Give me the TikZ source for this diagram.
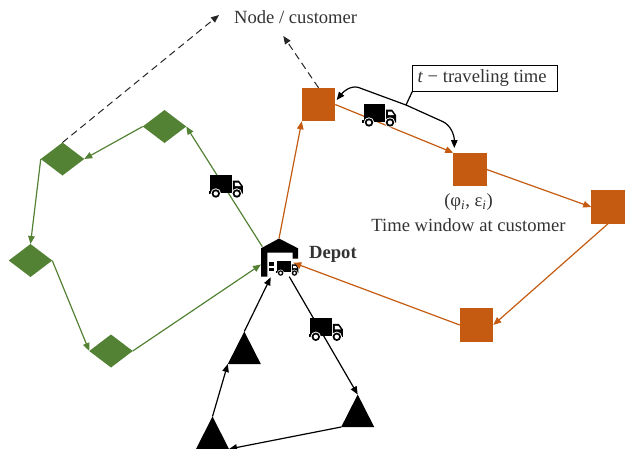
\documentclass[tikz,border=0pt]{standalone}
\usepackage{fontspec}
\setmainfont{Liberation Serif}
\usetikzlibrary{shapes.geometric,arrows.meta}
\definecolor{ora}{HTML}{C55A11}
\definecolor{gre}{HTML}{548235}
\definecolor{txt}{HTML}{333333}
\tikzset{
  sq/.style={fill=ora,draw=none,minimum size=33.5,inner sep=0,outer sep=0},
  dia/.style={diamond,fill=gre,draw=none,minimum width=43.5,minimum height=33,inner sep=0,outer sep=0},
  tri/.style={isosceles triangle,isosceles triangle stretches,shape border rotate=90,fill=black,draw=none,minimum width=33,minimum height=32.5,inner sep=0,outer sep=0,anchor=lower side},
  tip/.style={-{Triangle[length=8,width=6.5]}},
  oline/.style={tip,draw=ora,line width=1.2},
  gline/.style={tip,draw=gre,line width=1.2},
  kline/.style={tip,draw=black,line width=1.2},
  dline/.style={tip,draw=black!85,line width=1,dash pattern=on 7 off 4.5},
  lab/.style={font=\fontsize{18.6}{21}\selectfont,text=txt,inner sep=0},
  truck/.pic={
    \fill[black] (1.5,0) rectangle (23,17.5);
    \fill[black] (0,16) rectangle (3,18.5);
    \fill[black] (24,5.5) -- (30,5.5) -- (34,11) -- (34,18.5) -- (24,18.5) -- cycle;
    \fill[white] (26,7.5) -- (29.5,7.5) -- (32,11) -- (26,11) -- cycle;
    \foreach \wx in {7,28}{
      \fill[white] (\wx,18.5) circle (5.2);
      \fill[black] (\wx,18.5) circle (4.2);
      \fill[white] (\wx,18.5) circle (2.2);
    }
  }
}
\begin{document}
\begin{tikzpicture}[x=1pt,y=-1pt]
\useasboundingbox (0,0) rectangle (627,448);
% customers
\node[sq] (s1) at (318.5,104.5) {};
\node[sq] (s2) at (470,169.5) {};
\node[sq] (s3) at (608,207) {};
\node[sq] (s4) at (476.5,325) {};
\node[dia] (d1) at (164.5,126.5) {};
\node[dia] (d2) at (62.5,159) {};
\node[dia] (d3) at (30.5,260.5) {};
\node[dia] (d4) at (111,351) {};
\node[tri] (t1) at (244.3,364) {};
\node[tri] (t2) at (357.7,427) {};
\node[tri] (t3) at (212.5,449) {};
% depot
\coordinate (dg1) at (262.3,246.7);
\coordinate (dg2) at (261,264.5);
\coordinate (do1) at (279,238.5);
\coordinate (do2) at (293.3,262.7);
\coordinate (dk1) at (270.7,277.3);
\coordinate (dk2) at (289.3,276.7);
\fill[black] (do1) -- (298,248.3) -- (298,258.5) -- (292.7,258.5) -- (292.7,252.7) -- (267.3,252.7) -- (267.3,276.7) -- (261,276.7) -- (261,248.3) -- cycle;
\fill[black] (269.3,261.7) rectangle (274,265.5);
\fill[black] (269.3,267.5) rectangle (274,270.5);
% routes
\draw[gline] (dg1) -- (d1.east);
\draw[gline] (d1.west) -- (d2.east);
\draw[gline] (d2.west) -- (d3.north);
\draw[gline] (d3.east) -- (d4.west);
\draw[gline] (d4.east) -- (dg2);
\draw[oline] (do1) -- (s1.south west);
\draw[oline] (s1.east) -- (s2.north west);
\draw[oline] (s2.east) -- (s3.west);
\draw[oline] (s3.south) -- (s4.east);
\draw[oline] (s4.west) -- (do2);
\draw[kline] (t1.apex) -- (dk1);
\draw[kline] (dk2) -- (t2.apex);
\draw[kline] (t2.left corner) -- (t3.right corner);
\draw[kline] (t3.apex) -- (t1.left corner);
% dashed leaders
\coordinate (n1) at (219,15);
\coordinate (n2) at (283.3,36);
\draw[dline] (d2.north) -- (n1);
\draw[dline] (s1.north) -- (n2);
% trucks
\pic (ta) at (208.8,175) {truck};
\pic (tb) at (362,104) {truck};
\pic (tc) at (308.8,318.3) {truck};
\pic[scale=.66] (td) at (276,260.8) {truck};
% labels
\node[lab,anchor=base west] (nc) at (234,23.5) {Node / customer};
\node[lab,anchor=base west,font=\fontsize{18.6}{21}\selectfont\bfseries] (dl) at (309,258.5) {Depot};
\node[lab,anchor=base] (tw1) at (468.5,206.7) {(φ\textsubscript{\textit{i}}, ε\textsubscript{\textit{i}})};
\node[lab,anchor=base] (tw2) at (468.5,231) {Time window at customer};
\node[lab,draw=black,line width=0.9,minimum width=144.7,minimum height=26.7,outer sep=0] (tbox) at (484.6,78.3) {\textit{t} − traveling time\hspace*{5pt}};
% travel time bracket
\coordinate (cs) at (336.7,100);
\coordinate (ce) at (454.3,148);
\coordinate (cm) at (406,105);
\draw[tip,line width=1.2] (cm) -- (358,87.3) .. controls (350,85.5) and (343,92) .. (cs);
\draw[tip,line width=1.2] (cm) -- (443,121.7) .. controls (450,125) and (454.3,134) .. (ce);
\draw[line width=1.2] (cm) -- (tbox.south west);
\end{tikzpicture}
\end{document}
